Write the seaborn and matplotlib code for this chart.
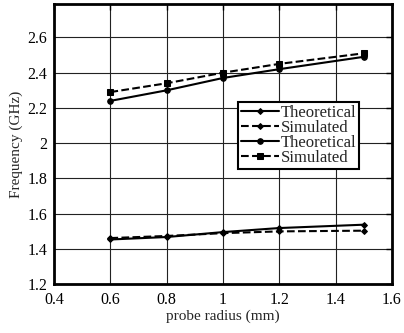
import numpy as np
import pandas as pd
import matplotlib
matplotlib.use('Agg')
import matplotlib.pyplot as plt
import seaborn as sns

# probe radius (mm)
radius = [0.6, 0.8, 1.0, 1.2, 1.5]

# lower band (GHz)
low_theory = [1.453, 1.467, 1.495, 1.518, 1.537]
low_sim = [1.461, 1.473, 1.489, 1.499, 1.503]

# upper band (GHz)
high_theory = [2.24, 2.30, 2.37, 2.42, 2.49]
high_sim = [2.29, 2.34, 2.40, 2.45, 2.51]

labels = ['Theoretical', 'Simulated', 'Theoretical', 'Simulated']

sns.set_style("white")
plt.rcParams['font.family'] = ['Liberation Serif', 'DejaVu Serif']

fig, ax = plt.subplots(figsize=(4.04, 3.33), dpi=100)

series = [
    (low_theory, '-', 'D', 3),
    (low_sim, '--', 'D', 3),
    (high_theory, '-', 'o', 4),
    (high_sim, '--', 's', 4),
]
for (vals, ls, mk, ms), lab in zip(series, labels):
    df = pd.DataFrame({'r': radius, 'f': vals})
    sns.lineplot(data=df, x='r', y='f', ax=ax, color='black', linestyle=ls,
                 marker=mk, markersize=ms, linewidth=1.5, label=lab,
                 markeredgecolor='black', markerfacecolor='black')

ax.set_xlim(0.4, 1.6)
ax.set_ylim(1.2, 2.79)
ax.set_xticks([0.4, 0.6, 0.8, 1.0, 1.2, 1.4, 1.6])
ax.set_xticklabels(['0.4', '0.6', '0.8', '1', '1.2', '1.4', '1.6'])
ax.set_yticks([1.2, 1.4, 1.6, 1.8, 2.0, 2.2, 2.4, 2.6])
ax.set_yticklabels(['1.2', '1.4', '1.6', '1.8', '2', '2.2', '2.4', '2.6'])
ax.grid(True, color='#222222', linewidth=0.8, linestyle='-')
ax.tick_params(direction='in', length=4, width=1, top=True, right=True,
               labelsize=11.5, colors='black')
ax.tick_params(axis='x', pad=6)
ax.tick_params(axis='y', pad=5)
for s in ax.spines.values():
    s.set_linewidth(2)
    s.set_color('black')

ax.set_xlabel('probe radius (mm)', fontsize=11, labelpad=1)
ax.set_ylabel('Frequency (GHz)', fontsize=11, labelpad=3)

leg = ax.legend(loc='upper left', bbox_to_anchor=(0.545, 0.65), fontsize=12,
                frameon=True, fancybox=False, edgecolor='black', framealpha=1,
                handlelength=2.3, handletextpad=0.1, borderpad=0.15,
                labelspacing=-0.05, borderaxespad=0)
leg.get_frame().set_linewidth(1.5)

fig.subplots_adjust(left=0.134, right=0.97, top=0.988, bottom=0.147)
fig.savefig('out.png', dpi=100)
